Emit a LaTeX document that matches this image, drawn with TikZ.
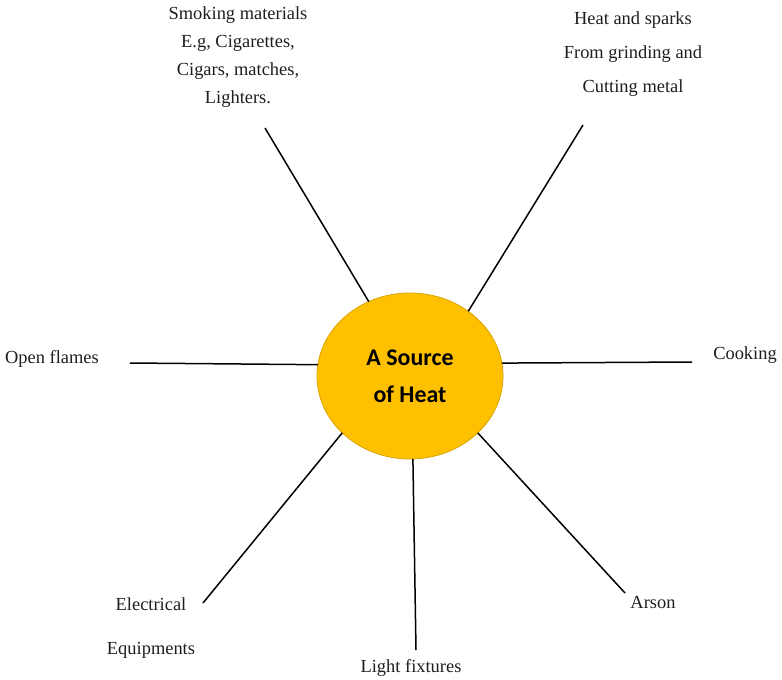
\documentclass[tikz,border=0pt]{standalone}
\usepackage{fontspec}
\setmainfont{Liberation Serif}
\newfontfamily\hubfont{Carlito}
\usetikzlibrary{shapes.geometric}
\definecolor{hubfill}{HTML}{FFC000}
\definecolor{hubedge}{HTML}{D9A400}
\definecolor{inktext}{HTML}{1E1E1E}
\tikzset{
  hub/.style={ellipse, draw=hubedge, line width=0.8bp, fill=hubfill, minimum width=186bp, minimum height=166bp, inner sep=0pt, outer sep=0pt, align=center, text=black, font=\hubfont\bfseries\fontsize{24}{37}\selectfont},
  lbl/.style={align=center, text=inktext, inner sep=0pt},
  spoke/.style={draw=black, line width=1.5bp}
}
\begin{document}
\begin{tikzpicture}[x=1bp,y=-1bp]
\useasboundingbox (0,0) rectangle (782,680);
\node[hub] (c) at (410,376) {A Source\\of Heat};

\node[lbl, font=\fontsize{18.5}{28}\selectfont] (smoke) at (238,57) {Smoking materials\\E.g, Cigarettes,\\Cigars, matches,\\Lighters.};
\node[lbl, font=\fontsize{18.5}{34.5}\selectfont] (heat) at (633,54) {Heat and sparks\\From grinding and\\Cutting metal};
\node[lbl, font=\fontsize{18.5}{22}\selectfont] (open) at (52,359) {Open flames};
\node[lbl, font=\fontsize{18.5}{22}\selectfont] (cook) at (745,355) {Cooking};
\node[lbl, font=\fontsize{18.5}{45}\selectfont] (elec) at (151,628) {Electrical\\Equipments};
\node[lbl, font=\fontsize{18.5}{22}\selectfont] (light) at (411,668) {Light fixtures};
\node[lbl, font=\fontsize{18.5}{22}\selectfont] (arson) at (653,602) {Arson};

\coordinate (eSmoke) at (265,128);
\coordinate (eHeat) at (583,125);
\coordinate (eOpen) at (130,363);
\coordinate (eCook) at (692,362);
\coordinate (eElec) at (203,603);
\coordinate (eLight) at (416,650);
\coordinate (eArson) at (625,593);

\draw[spoke] (c.119) -- (eSmoke);
\draw[spoke] (c.48) -- (eHeat);
\draw[spoke] (c.173) -- (eOpen);
\draw[spoke] (c.8) -- (eCook);
\draw[spoke] (c.-140) -- (eElec);
\draw[spoke] (c.-88) -- (eLight);
\draw[spoke] (c.-40) -- (eArson);
\end{tikzpicture}
\end{document}
